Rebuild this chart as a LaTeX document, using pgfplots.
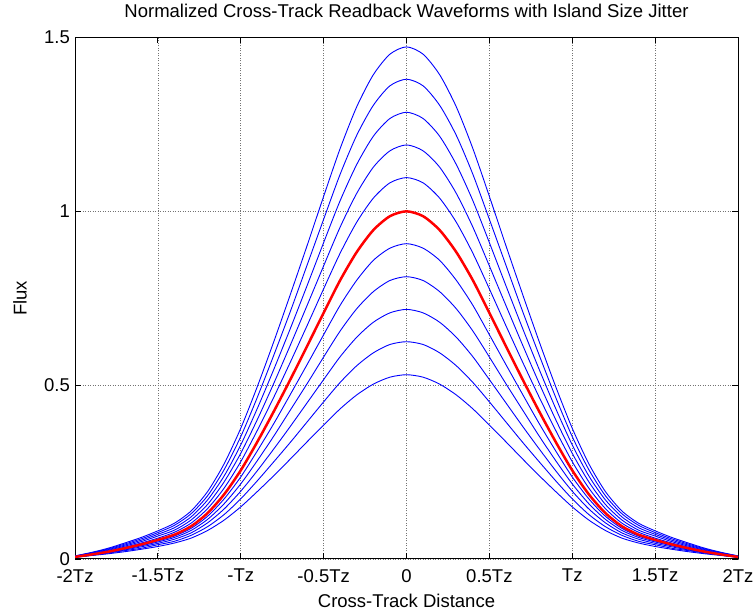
\documentclass[border=0pt]{standalone}
\usepackage{pgfplots}
\pgfplotsset{compat=1.18}
\usepackage{pgfplotstable}
\usepackage{fontspec}
\setmainfont{Liberation Sans}

% Cross-track readback flux for eleven island sizes; c6 is the nominal island
\pgfplotstableread{
x    c1    c2    c3    c4    c5    c6    c7    c8    c9    c10   c11
-2.0 0.005 0.005 0.005 0.006 0.006 0.006 0.007 0.007 0.008 0.008 0.009
-1.9 0.010 0.011 0.011 0.012 0.013 0.013 0.014 0.015 0.017 0.018 0.019
-1.8 0.015 0.017 0.018 0.019 0.020 0.021 0.023 0.025 0.027 0.029 0.031
-1.7 0.021 0.024 0.026 0.028 0.030 0.031 0.034 0.037 0.040 0.043 0.046
-1.6 0.028 0.031 0.035 0.038 0.040 0.042 0.046 0.050 0.054 0.058 0.062
-1.5 0.036 0.041 0.045 0.049 0.052 0.055 0.060 0.066 0.071 0.076 0.081
-1.4 0.046 0.051 0.057 0.062 0.066 0.070 0.077 0.083 0.090 0.097 0.103
-1.3 0.060 0.068 0.075 0.082 0.088 0.094 0.103 0.112 0.121 0.130 0.138
-1.2 0.082 0.093 0.104 0.114 0.123 0.132 0.145 0.157 0.170 0.182 0.194
-1.1 0.112 0.128 0.144 0.159 0.173 0.186 0.204 0.222 0.239 0.257 0.274
-1.0 0.150 0.173 0.195 0.216 0.236 0.255 0.280 0.304 0.328 0.352 0.376
-0.9 0.194 0.225 0.254 0.283 0.311 0.337 0.370 0.401 0.433 0.465 0.496
-0.8 0.240 0.280 0.317 0.354 0.390 0.425 0.466 0.506 0.546 0.587 0.626
-0.7 0.288 0.336 0.382 0.429 0.474 0.517 0.567 0.616 0.664 0.713 0.762
-0.6 0.337 0.394 0.449 0.504 0.559 0.612 0.671 0.729 0.786 0.845 0.901
-0.5 0.385 0.452 0.516 0.581 0.645 0.708 0.777 0.843 0.910 0.977 1.043
-0.4 0.432 0.508 0.582 0.656 0.730 0.802 0.880 0.955 1.031 1.107 1.181
-0.3 0.472 0.556 0.638 0.720 0.802 0.883 0.969 1.052 1.135 1.219 1.301
-0.2 0.503 0.593 0.681 0.769 0.859 0.946 1.038 1.127 1.216 1.305 1.393
-0.1 0.523 0.617 0.708 0.801 0.894 0.986 1.082 1.174 1.267 1.361 1.452
 0.0 0.530 0.625 0.718 0.812 0.907 1.000 1.097 1.191 1.285 1.380 1.473
 0.1 0.523 0.617 0.708 0.801 0.894 0.986 1.082 1.174 1.267 1.361 1.452
 0.2 0.503 0.593 0.681 0.769 0.859 0.946 1.038 1.127 1.216 1.305 1.393
 0.3 0.472 0.556 0.638 0.720 0.802 0.883 0.969 1.052 1.135 1.219 1.301
 0.4 0.432 0.508 0.582 0.656 0.730 0.802 0.880 0.955 1.031 1.107 1.181
 0.5 0.385 0.452 0.516 0.581 0.645 0.708 0.777 0.843 0.910 0.977 1.043
 0.6 0.337 0.394 0.449 0.504 0.559 0.612 0.671 0.729 0.786 0.845 0.901
 0.7 0.288 0.336 0.382 0.429 0.474 0.517 0.567 0.616 0.664 0.713 0.762
 0.8 0.240 0.280 0.317 0.354 0.390 0.425 0.466 0.506 0.546 0.587 0.626
 0.9 0.194 0.225 0.254 0.283 0.311 0.337 0.370 0.401 0.433 0.465 0.496
 1.0 0.150 0.173 0.195 0.216 0.236 0.255 0.280 0.304 0.328 0.352 0.376
 1.1 0.112 0.128 0.144 0.159 0.173 0.186 0.204 0.222 0.239 0.257 0.274
 1.2 0.082 0.093 0.104 0.114 0.123 0.132 0.145 0.157 0.170 0.182 0.194
 1.3 0.060 0.068 0.075 0.082 0.088 0.094 0.103 0.112 0.121 0.130 0.138
 1.4 0.046 0.051 0.057 0.062 0.066 0.070 0.077 0.083 0.090 0.097 0.103
 1.5 0.036 0.041 0.045 0.049 0.052 0.055 0.060 0.066 0.071 0.076 0.081
 1.6 0.028 0.031 0.035 0.038 0.040 0.042 0.046 0.050 0.054 0.058 0.062
 1.7 0.021 0.024 0.026 0.028 0.030 0.031 0.034 0.037 0.040 0.043 0.046
 1.8 0.015 0.017 0.018 0.019 0.020 0.021 0.023 0.025 0.027 0.029 0.031
 1.9 0.010 0.011 0.011 0.012 0.013 0.013 0.014 0.015 0.017 0.018 0.019
 2.0 0.005 0.005 0.005 0.006 0.006 0.006 0.007 0.007 0.008 0.008 0.009
}\fluxdata

\begin{document}
\begin{tikzpicture}
\path[use as bounding box] (0,0) rectangle (755pt,613pt);
\begin{axis}[
  at={(75pt,54pt)}, anchor=south west,
  width=663pt, height=521.5pt, scale only axis,
  xmin=-2, xmax=2, ymin=0, ymax=1.5,
  xtick={-2,-1.5,-1,-0.5,0,0.5,1,1.5,2},
  xticklabels={-2Tz,-1.5Tz,-Tz,-0.5Tz,0,0.5Tz,Tz,1.5Tz,2Tz},
  ytick={0,0.5,1,1.5},
  yticklabels={0,0.5,1,1.5},
  tick align=inside, tick pos=both,
  major tick length=6pt,
  tick style={black, line width=0.8pt},
  axis line style={black, line width=1pt},
  grid=major,
  grid style={black!55, line width=0.6pt, dash pattern=on 1pt off 1.5pt},
  ticklabel style={font=\fontsize{18.5}{20}\selectfont, inner sep=1pt},
  xticklabel style={yshift=-9pt},
  yticklabel style={xshift=-4pt},
  title={Normalized Cross-Track Readback Waveforms with Island Size Jitter},
  title style={font=\fontsize{18.5}{20}\selectfont, at={(0.5,1)}, anchor=base, yshift=14pt},
  xlabel={Cross-Track Distance},
  xlabel style={font=\fontsize{18.5}{20}\selectfont, at={(0.5,0)}, anchor=base, yshift=-49pt},
  ylabel={Flux},
  ylabel style={font=\fontsize{18.5}{20}\selectfont, at={(0,0.5)}, anchor=center, yshift=55pt},
  every axis plot/.append style={line join=round, smooth, tension=0.45},
]
\foreach \c in {c1,c2,c3,c4,c5,c7,c8,c9,c10,c11}{
  \addplot[blue, line width=0.9pt] table[x=x, y=\c] {\fluxdata};
}
\addplot[red, line width=2.5pt] table[x=x, y=c6] {\fluxdata};
\end{axis}
\end{tikzpicture}
\end{document}
